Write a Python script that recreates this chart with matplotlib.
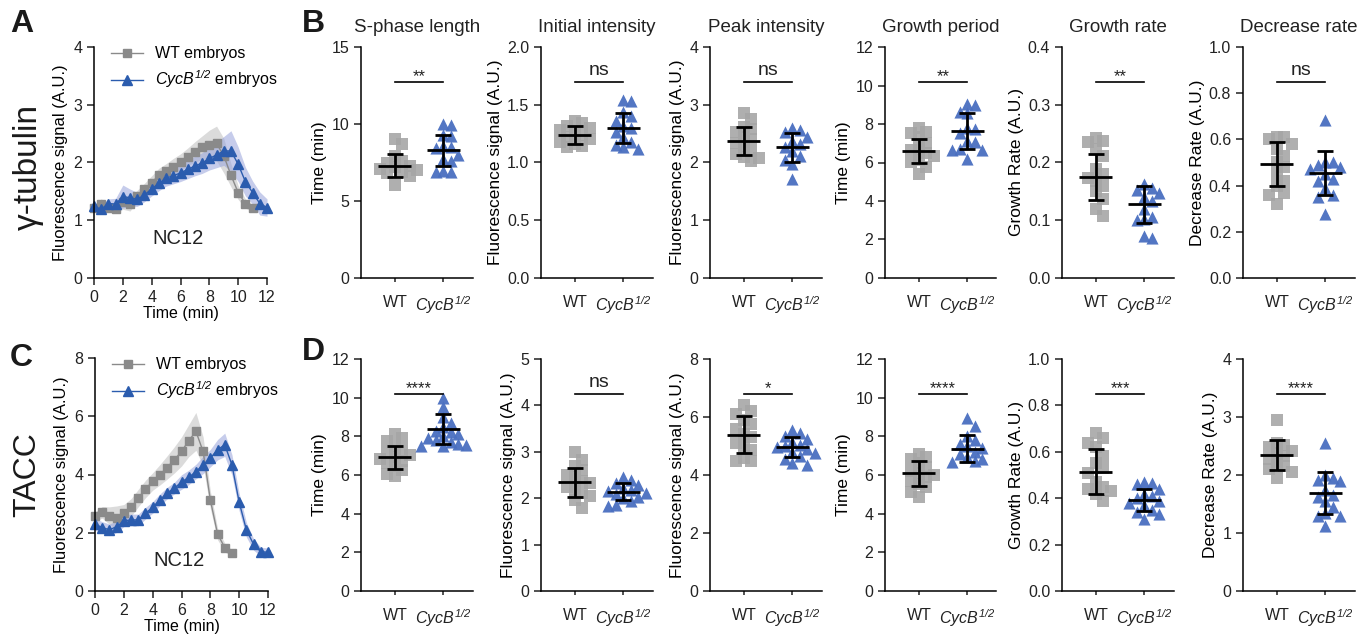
import numpy as np
import matplotlib
matplotlib.use("Agg")
import matplotlib.pyplot as plt

plt.rcParams['font.family'] = ['Liberation Sans', 'DejaVu Sans']
plt.rcParams['mathtext.fontset'] = 'custom'
plt.rcParams['mathtext.rm'] = 'Liberation Sans:italic'
plt.rcParams['mathtext.it'] = 'Liberation Sans:italic'
plt.rcParams['axes.linewidth'] = 1.1

# ---- time course data (panel A: gamma-tubulin, panel C: TACC) ----
t_wt_a = [0, 0.5, 1, 1.5, 2, 2.5, 3, 3.5, 4, 4.5, 5, 5.5, 6, 6.5, 7, 7.5, 8, 8.5, 9, 9.5, 10, 10.5, 11]
wt_a = [1.21, 1.29, 1.21, 1.19, 1.31, 1.28, 1.42, 1.54, 1.65, 1.78, 1.85, 1.93, 2.00, 2.10, 2.18, 2.26,
        2.31, 2.33, 2.12, 1.78, 1.48, 1.29, 1.21]
wt_a_sem = [0.05, 0.08, 0.06, 0.07, 0.12, 0.12, 0.10, 0.10, 0.12, 0.12, 0.13, 0.14, 0.15, 0.15, 0.18, 0.20,
            0.25, 0.30, 0.30, 0.20, 0.12, 0.08, 0.06]
t_cyc_a = [0, 0.5, 1, 1.5, 2, 2.5, 3, 3.5, 4, 4.5, 5, 5.5, 6, 6.5, 7, 7.5, 8, 8.5, 9, 9.5, 10, 10.5, 11, 11.5, 12]
cyc_a = [1.24, 1.19, 1.29, 1.28, 1.41, 1.39, 1.36, 1.44, 1.54, 1.64, 1.73, 1.77, 1.82, 1.88, 1.94, 1.99,
         2.07, 2.13, 2.20, 2.20, 1.97, 1.67, 1.48, 1.29, 1.22]
cyc_a_sem = [0.06, 0.08, 0.08, 0.10, 0.20, 0.15, 0.12, 0.12, 0.12, 0.13, 0.14, 0.14, 0.15, 0.16, 0.17, 0.18,
             0.20, 0.22, 0.25, 0.35, 0.30, 0.25, 0.20, 0.20, 0.15]

t_wt_c = [0, 0.5, 1, 1.5, 2, 2.5, 3, 3.5, 4, 4.5, 5, 5.5, 6, 6.5, 7, 7.5, 8, 8.5, 9, 9.5]
wt_c = [2.56, 2.70, 2.59, 2.52, 2.67, 2.87, 3.19, 3.50, 3.76, 3.99, 4.24, 4.50, 4.79, 5.16, 5.48, 4.79,
        3.13, 1.96, 1.49, 1.30]
wt_c_sem = [0.15, 0.20, 0.30, 0.40, 0.30, 0.30, 0.30, 0.30, 0.30, 0.35, 0.40, 0.45, 0.50, 0.55, 0.65, 0.50,
            0.30, 0.20, 0.15, 0.10]
t_cyc_c = [0, 0.5, 1, 1.5, 2, 2.5, 3, 3.5, 4, 4.5, 5, 5.5, 6, 6.5, 7, 7.5, 8, 8.5, 9, 9.5, 10, 10.5, 11, 11.5, 12]
cyc_c = [2.29, 2.18, 2.10, 2.21, 2.41, 2.44, 2.44, 2.67, 2.87, 3.13, 3.36, 3.53, 3.74, 3.90, 4.10, 4.33,
         4.56, 4.85, 5.02, 4.33, 3.05, 2.10, 1.60, 1.35, 1.33]
cyc_c_sem = [0.20, 0.20, 0.20, 0.20, 0.20, 0.20, 0.20, 0.20, 0.20, 0.20, 0.20, 0.20, 0.25, 0.25, 0.25, 0.30,
             0.30, 0.35, 0.40, 0.35, 0.30, 0.25, 0.20, 0.15, 0.15]

# ---- per-embryo measurements (panels B and D) ----
titles = ['S-phase length', 'Initial intensity', 'Peak intensity', 'Growth period', 'Growth rate', 'Decrease rate']
ylabels = ['Time (min)', 'Fluorescence signal (A.U.)', 'Fluorescence signal (A.U.)', 'Time (min)',
           'Growth Rate (A.U.)', 'Decrease Rate (A.U.)']

b_wt = [
    [9.05, 8.7, 7.9, 7.6, 7.45, 7.3, 7.2, 7.1, 7.0, 6.9, 6.8, 6.6, 6.05],
    [1.36, 1.34, 1.32, 1.30, 1.28, 1.26, 1.24, 1.22, 1.20, 1.18, 1.16, 1.14, 1.13],
    [2.85, 2.75, 2.62, 2.58, 2.52, 2.45, 2.40, 2.33, 2.28, 2.20, 2.15, 2.10, 2.08, 2.02],
    [7.8, 7.6, 7.55, 7.3, 7.0, 6.7, 6.65, 6.5, 6.35, 6.15, 6.05, 5.75, 5.4],
    [0.243, 0.238, 0.235, 0.223, 0.212, 0.188, 0.180, 0.174, 0.168, 0.159, 0.151, 0.136, 0.119, 0.107],
    [0.61, 0.61, 0.60, 0.58, 0.56, 0.53, 0.50, 0.48, 0.45, 0.42, 0.40, 0.37, 0.36, 0.32],
]
b_cyc = [
    [10.0, 9.95, 9.3, 9.25, 8.6, 8.5, 8.45, 8.0, 7.75, 7.6, 6.95, 6.9, 6.9],
    [1.54, 1.53, 1.44, 1.40, 1.36, 1.32, 1.30, 1.26, 1.22, 1.18, 1.15, 1.13, 1.12],
    [2.6, 2.56, 2.52, 2.45, 2.38, 2.32, 2.26, 2.2, 2.12, 2.05, 1.98, 1.72],
    [9.05, 9.0, 8.6, 8.55, 7.8, 7.75, 7.55, 7.1, 7.05, 6.7, 6.65, 6.65, 6.2],
    [0.162, 0.155, 0.153, 0.148, 0.14, 0.133, 0.12, 0.105, 0.103, 0.1, 0.072, 0.07],
    [0.685, 0.50, 0.50, 0.49, 0.48, 0.47, 0.45, 0.43, 0.42, 0.39, 0.36, 0.35, 0.275],
]
b_mean_wt = [7.30, 1.237, 2.37, 6.59, 0.175, 0.492]
b_sd_wt = [0.75, 0.075, 0.24, 0.64, 0.040, 0.095]
b_mean_cyc = [8.28, 1.295, 2.26, 7.62, 0.1275, 0.456]
b_sd_cyc = [1.03, 0.13, 0.25, 0.94, 0.032, 0.095]
b_ymax = [15, 2.0, 4, 12, 0.4, 1.0]
b_step = [5, 0.5, 1, 2, 0.1, 0.2]
b_fmt = ['%d', '%.1f', '%d', '%d', '%.1f', '%.1f']
b_sig = ['**', 'ns', 'ns', '**', '**', 'ns']

d_wt = [
    [8.1, 7.9, 7.75, 7.5, 7.3, 7.15, 7.05, 6.95, 6.85, 6.75, 6.6, 6.45, 6.25, 6.05, 5.95],
    [3.0, 2.82, 2.7, 2.6, 2.5, 2.45, 2.38, 2.32, 2.25, 2.18, 2.12, 2.05, 1.97, 1.78],
    [6.4, 6.2, 6.1, 5.9, 5.75, 5.6, 5.4, 5.3, 5.1, 5.0, 4.85, 4.6, 4.5, 4.5],
    [7.1, 6.95, 6.85, 6.6, 6.4, 6.2, 6.1, 6.0, 5.9, 5.7, 5.55, 5.4, 5.1, 4.85],
    [0.68, 0.66, 0.64, 0.62, 0.58, 0.55, 0.53, 0.51, 0.47, 0.45, 0.44, 0.43, 0.42, 0.39],
    [2.95, 2.55, 2.52, 2.48, 2.42, 2.38, 2.32, 2.28, 2.2, 2.15, 2.1, 2.05, 1.95],
]
d_cyc = [
    [10.0, 9.5, 9.0, 8.7, 8.5, 8.3, 8.2, 8.1, 8.0, 7.9, 7.8, 7.7, 7.6, 7.55, 7.5, 7.5],
    [2.45, 2.4, 2.32, 2.28, 2.22, 2.18, 2.15, 2.12, 2.08, 2.03, 2.0, 1.95, 1.85, 1.83],
    [5.55, 5.45, 5.35, 5.25, 5.15, 5.05, 5.0, 4.95, 4.9, 4.8, 4.75, 4.65, 4.55, 4.4, 4.35],
    [8.95, 8.55, 8.0, 7.8, 7.6, 7.5, 7.4, 7.2, 7.1, 6.95, 6.85, 6.7, 6.65],
    [0.47, 0.465, 0.46, 0.44, 0.42, 0.41, 0.40, 0.39, 0.38, 0.37, 0.35, 0.34, 0.33, 0.31],
    [2.55, 2.0, 1.95, 1.92, 1.9, 1.75, 1.65, 1.62, 1.55, 1.45, 1.35, 1.3, 1.3, 1.12],
]
d_mean_wt = [6.91, 2.34, 5.39, 6.08, 0.515, 2.34]
d_sd_wt = [0.58, 0.32, 0.64, 0.65, 0.095, 0.255]
d_mean_cyc = [8.37, 2.14, 4.97, 7.37, 0.391, 1.69]
d_sd_cyc = [0.77, 0.18, 0.35, 0.70, 0.048, 0.365]
d_ymax = [12, 5, 8, 12, 1.0, 4]
d_step = [2, 1, 2, 2, 0.2, 1]
d_fmt = ['%d', '%d', '%d', '%d', '%.1f', '%d']
d_sig = ['****', 'ns', '*', '****', '***', '****']

GRAY_PT = '#a6a6a6'
BLUE_PT = '#4a6fc0'
GRAY_LN = '#8a8a8a'
BLUE_LN = '#2b5cae'
CYC = r'$\mathit{CycB}^{1/2}$'

W, H = 1368, 638
fig = plt.figure(figsize=(W / 100, H / 100), dpi=100)


def ax_px(l, t, r, b):
    return fig.add_axes([l / W, 1 - b / H, (r - l) / W, (b - t) / H])


def style(ax):
    for s in ['top', 'right']:
        ax.spines[s].set_visible(False)
    ax.tick_params(direction='out', length=5, width=1.1, labelsize=11.5, colors='#222222')


def swarm(vals, ppu_y, ppu_x=48.5, step=7.5, gap=9.5):
    # spread points of similar value sideways, like a GraphPad scatter
    vals = np.asarray(vals, float)
    order = np.argsort(vals)[::-1]
    placed = []
    offs = np.zeros(len(vals))
    for i in order:
        y = vals[i] * ppu_y
        x = 0.0
        for k in [0, 1, -1, 2, -2, 3, -3]:
            x = k * step
            if all(abs(x - px) >= step * 0.99 or abs(y - py) >= gap for px, py in placed):
                break
        placed.append((x, y))
        offs[i] = x / ppu_x
    return offs


def time_panel(ax, tw, w, ws, tc, c, cs, ymax, step, nc_y):
    style(ax)
    w, ws, c, cs = map(np.asarray, (w, ws, c, cs))
    ax.fill_between(tw, w - ws, w + ws, color='#c4c4c4', alpha=0.6, lw=0)
    ax.fill_between(tc, c - cs, c + cs, color='#97a3db', alpha=0.55, lw=0)
    ax.plot(tw, w, '-s', color=GRAY_LN, ms=6, lw=1.0, label='WT embryos')
    ax.plot(tc, c, '-^', color=BLUE_LN, ms=7, lw=1.0, label=CYC + ' embryos')
    ax.set_xlim(0, 12)
    ax.set_ylim(0, ymax)
    ax.set_xticks(range(0, 13, 2))
    ax.set_yticks(np.arange(0, ymax + 0.01, step))
    for art in ax.lines + ax.collections:
        art.set_clip_on(False)
    ax.set_ylabel('Fluorescence signal (A.U.)', fontsize=12, labelpad=4)
    ax.set_xlabel('Time (min)', fontsize=11.5, labelpad=1)
    ax.text(5.8, nc_y, 'NC12', fontsize=14.5, ha='center', va='center', color='#222222')
    ax.legend(loc='upper left', bbox_to_anchor=(0.06, 1.03), frameon=False, fontsize=11.5,
              handlelength=2.0, handletextpad=0.8, labelspacing=0.45, borderaxespad=0)


def scatter_panel(ax, wt, cyc, mw, sw, mc, sc, ymax, step, fmt, sig, ylabel, title=None):
    style(ax)
    ax.set_xlim(-0.7, 1.6)
    ax.set_ylim(0, ymax)
    ppu_y = 231.0 / ymax
    ax.scatter(0 + swarm(wt, ppu_y), wt, marker='s', s=64, color=GRAY_PT, alpha=0.9, lw=0, zorder=2)
    ax.scatter(1 + swarm(cyc, ppu_y), cyc, marker='^', s=76, color=BLUE_PT, alpha=0.95, lw=0, zorder=2)
    for pos, m, sd in [(0, mw, sw), (1, mc, sc)]:
        ax.errorbar(pos, m, yerr=sd, fmt='none', ecolor='black', elinewidth=2, capsize=6, capthick=2, zorder=3)
        ax.hlines(m, pos - 0.34, pos + 0.34, color='black', lw=2, zorder=3)
    yl = 0.85 * ymax
    ax.plot([0, 1], [yl, yl], color='black', lw=1.2)
    if sig == 'ns':
        ax.text(0.5, yl + 0.012 * ymax, sig, ha='center', va='bottom', fontsize=14, color='#222222')
    else:
        ax.text(0.5, yl - 0.01 * ymax, sig, ha='center', va='bottom', fontsize=12, color='#222222')
    ax.set_xticks([0, 1])
    ax.set_xticklabels(['WT', CYC], fontsize=11.5)
    ax.tick_params(axis='x', length=3, pad=9)
    ticks = np.arange(0, ymax + ymax * 0.001, step)
    ax.set_yticks(ticks)
    ax.set_yticklabels([fmt % v for v in ticks])
    ax.set_ylabel(ylabel, fontsize=12.5, labelpad=3)
    if title:
        ax.set_title(title, fontsize=13.5, pad=11, color='#222222')


axA = ax_px(94, 47, 267, 278)
time_panel(axA, t_wt_a, wt_a, wt_a_sem, t_cyc_a, cyc_a, cyc_a_sem, 4, 1, 0.69)
axC = ax_px(95, 358, 268, 591)
time_panel(axC, t_wt_c, wt_c, wt_c_sem, t_cyc_c, cyc_c, cyc_c_sem, 8, 2, 1.05)

lefts = [361, 541, 710, 885, 1062, 1243]
for i, l in enumerate(lefts):
    ax = ax_px(l, 47, l + 111.5, 278)
    scatter_panel(ax, b_wt[i], b_cyc[i], b_mean_wt[i], b_sd_wt[i], b_mean_cyc[i], b_sd_cyc[i],
                  b_ymax[i], b_step[i], b_fmt[i], b_sig[i], ylabels[i], titles[i])
    ax = ax_px(l, 359, l + 111.5, 591)
    scatter_panel(ax, d_wt[i], d_cyc[i], d_mean_wt[i], d_sd_wt[i], d_mean_cyc[i], d_sd_cyc[i],
                  d_ymax[i], d_step[i], d_fmt[i], d_sig[i], ylabels[i])

# panel letters and row labels
for txt, x, y in [('A', 10, 24), ('B', 302, 24), ('C', 10, 358), ('D', 302, 352)]:
    fig.text(x / W, 1 - y / H, txt, fontsize=23, fontweight='bold', va='center', ha='left', color='#1a1a1a')
fig.text(28 / W, 1 - 167 / H, 'γ-tubulin', rotation=90, fontsize=24, ha='center', va='center', color='#1a1a1a')
fig.text(27 / W, 1 - 475 / H, 'TACC', rotation=90, fontsize=23, ha='center', va='center', color='#1a1a1a')

fig.savefig('out.png', dpi=100)
